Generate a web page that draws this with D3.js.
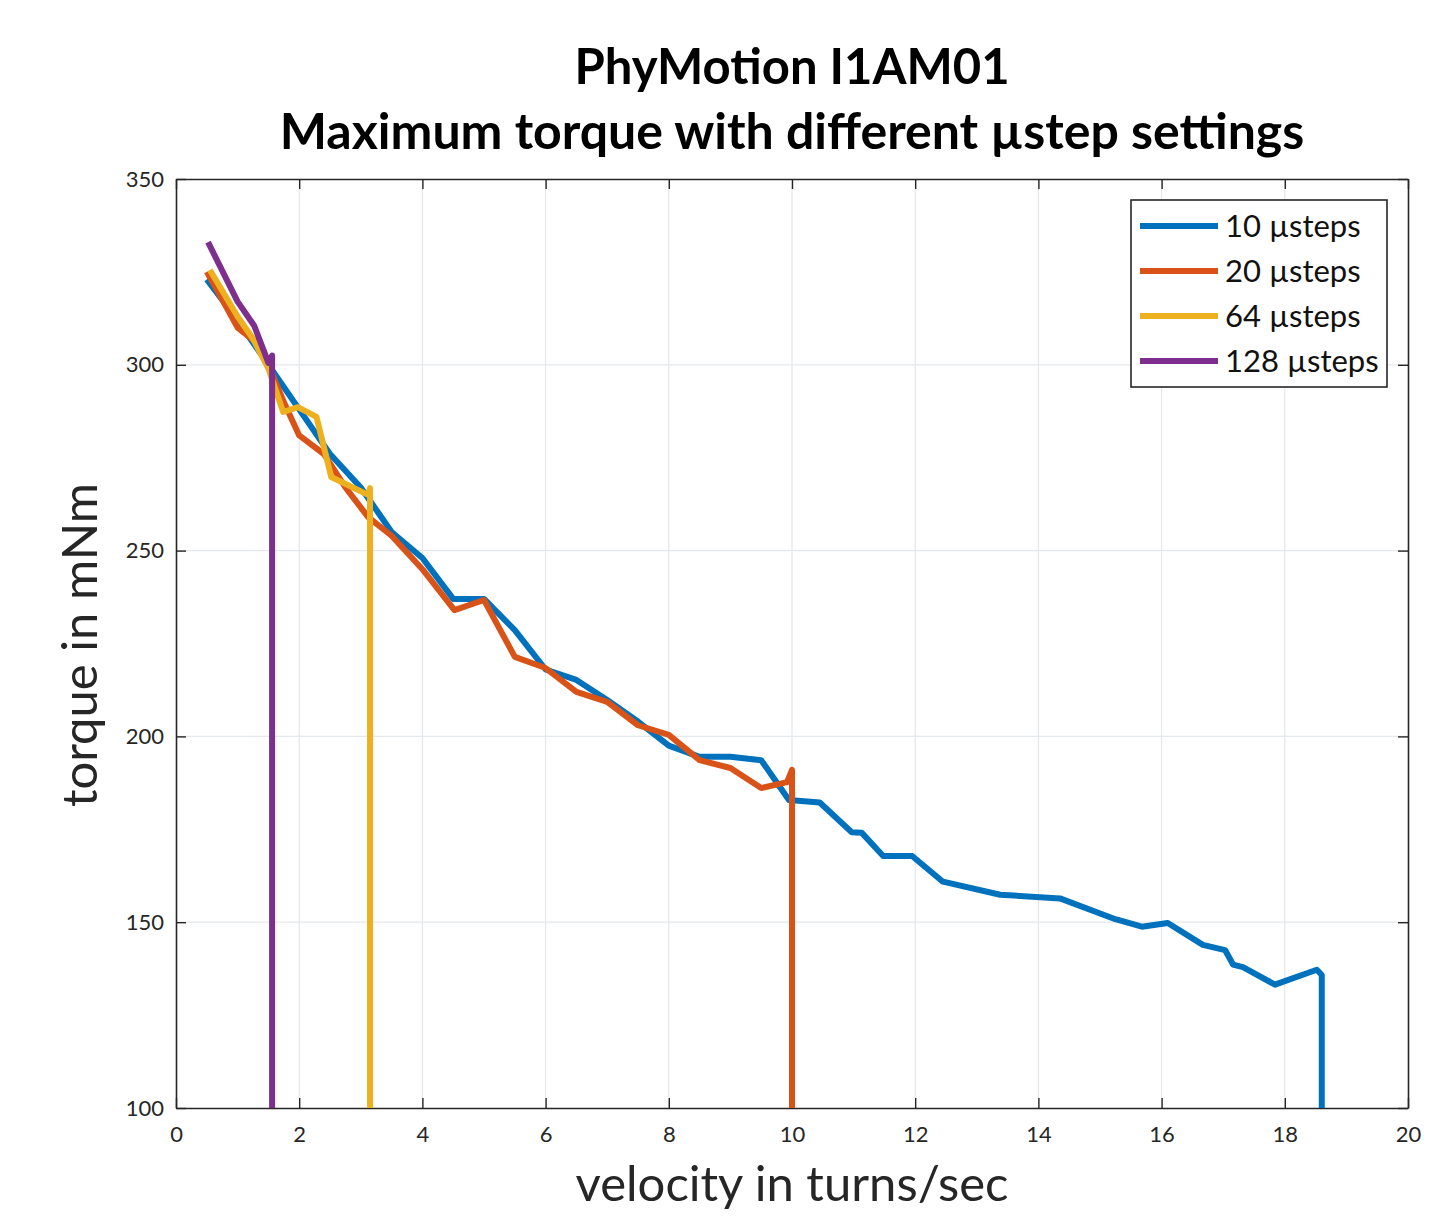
<!DOCTYPE html>
<html>
<head>
<meta charset="utf-8">
<script src="https://cdn.jsdelivr.net/npm/d3@7"></script>
<style>
  body { margin: 0; background: #fff; }
  svg { display: block; }
</style>
</head>
<body>
<svg id="chart" width="1442" height="1216"></svg>
<script>
const titleLines = ["PhyMotion I1AM01", "Maximum torque with different µstep settings"];
const xLabel = "velocity in turns/sec";
const yLabel = "torque in mNm";
const xTicks = [0, 2, 4, 6, 8, 10, 12, 14, 16, 18, 20];
const yTicks = [100, 150, 200, 250, 300, 350];
const seriesNames = ["10 µsteps", "20 µsteps", "64 µsteps", "128 µsteps"];
const seriesColors = ["#0072BD", "#D95319", "#EDB120", "#7E2F8E"];

const steps10 = [
  [0.5, 323], [1.0, 312], [1.5, 300], [2.0, 288], [2.5, 276], [3.0, 267], [3.5, 255],
  [4.0, 248], [4.5, 237], [5.0, 237], [5.5, 228.6], [6.0, 218], [6.5, 215.2], [7.0, 209.8],
  [7.5, 204], [8.0, 197.5], [8.5, 194.5], [9.0, 194.5], [9.5, 193.6], [9.95, 182.9],
  [10.45, 182.2], [10.97, 174.2], [11.13, 174.1], [11.48, 167.8], [11.95, 167.8],
  [12.45, 160.9], [13.38, 157.4], [14.35, 156.4], [15.25, 150.8], [15.68, 148.8],
  [16.1, 149.8], [16.67, 143.9], [17.03, 142.5], [17.16, 138.6], [17.32, 137.9],
  [17.84, 133.2], [18.52, 137.2], [18.6, 135.8], [18.6, 100]
];
const steps20 = [
  [0.5, 325], [1.0, 310], [1.3, 306], [1.5, 300], [1.75, 290], [2.0, 281], [2.4, 276],
  [2.75, 267], [3.12, 259], [3.5, 254], [4.0, 245], [4.52, 234], [5.0, 236.7], [5.5, 221.4],
  [6.0, 218.4], [6.5, 212], [7.0, 209.3], [7.5, 203], [8.0, 200.4], [8.5, 193.6],
  [9.0, 191.5], [9.5, 186.1], [9.92, 187.7], [10.0, 191], [10.0, 100]
];
const steps64 = [
  [0.55, 325.5], [1.0, 313], [1.25, 307], [1.5, 299], [1.74, 287.3], [1.98, 288.6],
  [2.28, 286], [2.52, 269.8], [3.12, 265], [3.15, 266.8], [3.15, 100]
];
const steps128 = [
  [0.52, 333], [1.0, 317], [1.27, 310.5], [1.5, 300.5], [1.56, 302.5], [1.56, 100]
];
const allSeries = [steps10, steps20, steps64, steps128];

const svg = d3.select("#chart");
const M = { left: 176, right: 1408, top: 179, bottom: 1108 };
const x = d3.scaleLinear().domain([0, 20]).range([M.left, M.right]);
const y = d3.scaleLinear().domain([100, 350]).range([M.bottom, M.top]);
const axisColor = "#262626";
const font = "Lato, 'Open Sans', sans-serif";

// grid
svg.append("g").selectAll("line").data(xTicks.slice(1, -1)).join("line")
  .attr("x1", d => x(d)).attr("x2", d => x(d)).attr("y1", M.top).attr("y2", M.bottom)
  .attr("stroke", "#e3e8ec").attr("stroke-width", 1.2);
svg.append("g").selectAll("line").data(yTicks.slice(1, -1)).join("line")
  .attr("y1", d => y(d)).attr("y2", d => y(d)).attr("x1", M.left).attr("x2", M.right)
  .attr("stroke", "#e3e8ec").attr("stroke-width", 1.2);

// axes (ticks inward, on all four sides)
const tl = 10;
const gx = svg.append("g").attr("transform", `translate(0,${M.bottom})`)
  .call(d3.axisBottom(x).tickValues(xTicks).tickSizeInner(-tl).tickSizeOuter(0).tickPadding(18));
const gxt = svg.append("g").attr("transform", `translate(0,${M.top})`)
  .call(d3.axisTop(x).tickValues(xTicks).tickSizeInner(-tl).tickSizeOuter(0).tickFormat(""));
const gy = svg.append("g").attr("transform", `translate(${M.left},0)`)
  .call(d3.axisLeft(y).tickValues(yTicks).tickSizeInner(-tl).tickSizeOuter(0).tickPadding(12));
const gyr = svg.append("g").attr("transform", `translate(${M.right},0)`)
  .call(d3.axisRight(y).tickValues(yTicks).tickSizeInner(-tl).tickSizeOuter(0).tickFormat(""));
[gx, gxt, gy, gyr].forEach(g => {
  g.selectAll("path").attr("stroke", axisColor).attr("stroke-width", 1.6);
  g.selectAll("line").attr("stroke", axisColor).attr("stroke-width", 1.4);
  g.selectAll("text").attr("fill", axisColor).attr("font-family", font).attr("font-size", 22);
});

// lines
const line = d3.line().x(d => x(d[0])).y(d => y(d[1]));
allSeries.forEach((s, i) => {
  svg.append("path").datum(s).attr("d", line)
    .attr("fill", "none").attr("stroke", seriesColors[i]).attr("stroke-width", 6)
    .attr("stroke-linejoin", "round").attr("stroke-linecap", "butt");
});

// legend
const lg = svg.append("g");
lg.append("rect").attr("x", 1131).attr("y", 200).attr("width", 256).attr("height", 187)
  .attr("fill", "#fff").attr("stroke", axisColor).attr("stroke-width", 1.6);
seriesNames.forEach((n, i) => {
  const yy = 226 + i * 45;
  lg.append("line").attr("x1", 1140).attr("x2", 1218).attr("y1", yy).attr("y2", yy)
    .attr("stroke", seriesColors[i]).attr("stroke-width", 6);
  lg.append("text").attr("x", 1225).attr("y", yy).attr("dy", "0.35em")
    .attr("font-family", font).attr("font-size", 31).attr("fill", "#111").text(n);
});

// titles
const titleSizes = [49, 50];
titleLines.forEach((t, i) => {
  svg.append("text").attr("x", 792).attr("y", 84 + i * 65).attr("text-anchor", "middle")
    .attr("font-family", font).attr("font-weight", "bold").attr("font-size", titleSizes[i])
    .attr("fill", "#000").text(t);
});

// axis labels
svg.append("text").attr("x", 792).attr("y", 1201).attr("text-anchor", "middle")
  .attr("font-family", font).attr("font-size", 49).attr("fill", axisColor).text(xLabel);
svg.append("text").attr("transform", "translate(97,645) rotate(-90)").attr("text-anchor", "middle")
  .attr("font-family", font).attr("font-size", 49).attr("fill", axisColor).text(yLabel);
</script>
</body>
</html>
